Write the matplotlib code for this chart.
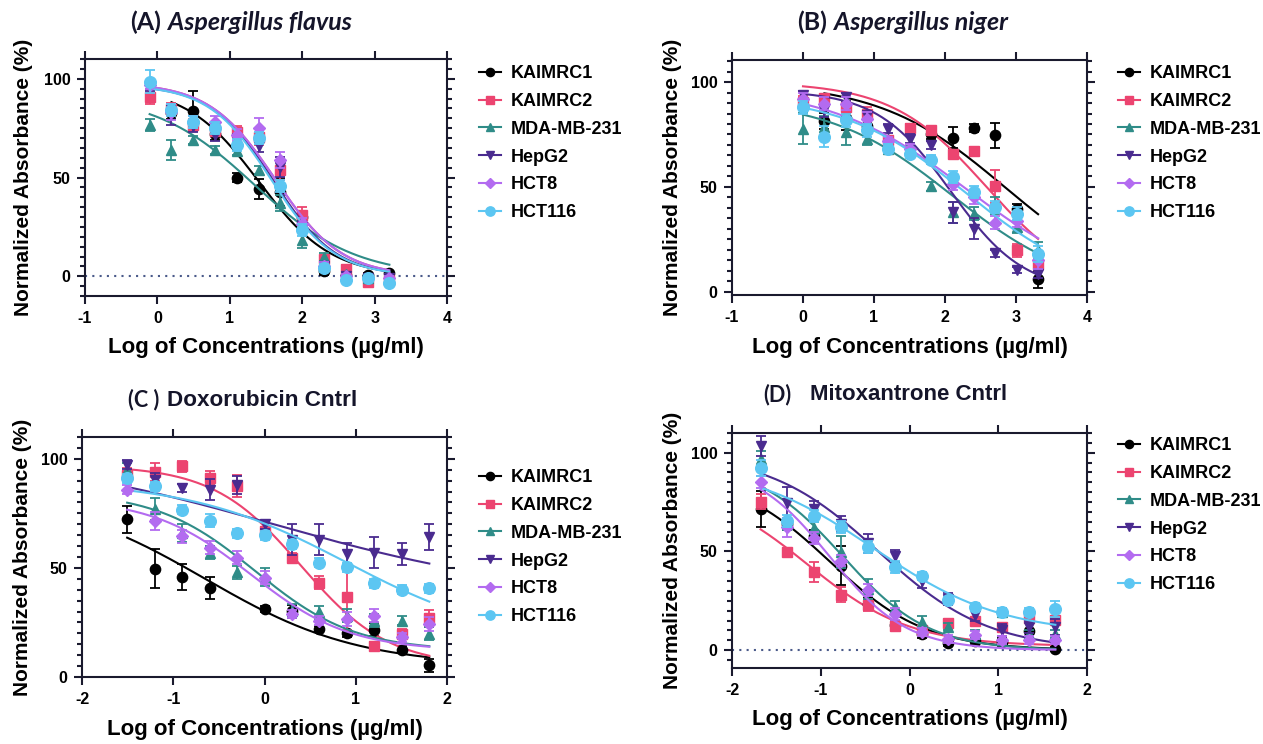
import numpy as np
import matplotlib.pyplot as plt
from matplotlib.lines import Line2D
from matplotlib.ticker import MultipleLocator

plt.rcParams['font.family'] = ['Liberation Sans', 'DejaVu Sans']
plt.rcParams['font.weight'] = 'bold'
plt.rcParams['axes.unicode_minus'] = False

nan = np.nan

cell_lines = ['KAIMRC1', 'KAIMRC2', 'MDA-MB-231', 'HepG2', 'HCT8', 'HCT116']
colors = ['#000000', '#EC4470', '#2F8C88', '#4A2B8F', '#B36BF0', '#5CC6F2']
markers = ['o', 's', '^', 'v', 'D', 'o']
msizes = [7.4, 6.6, 7.6, 7.6, 6.2, 8.4]

# (A) Aspergillus flavus extract, concentrations in ug/ml
conc_a = [0.78125, 1.5625, 3.125, 6.25, 12.5, 25, 50, 100, 200, 400, 800, 1600]
a_mean = [
    [nan, 82.6, 83.8, 72, 50, 44, 42.5, 29.8, 2.7, 0.5, 0.5, 1.4],
    [91, 84.6, 76.6, 73.6, 73, 70.7, 53.8, 31, 8.5, 3.9, -2.9, -2],
    [76.6, 64, 69, 64, 63.6, 53.8, 36.9, 18.3, 9.8, 1, -1, -1],
    [96, 81.7, 76, 71.6, 69, 65.7, 55.5, 25, 5, 0, -1, -1],
    [97, 83, 78, 78, 71.6, 75, 58.9, 26.7, 5, 0, -1, -1],
    [98.6, 84, 78, 75, 66.5, 70, 45.7, 23.4, 4, -2, -1, -3.4],
]
a_sem = [
    [0, 3, 10, 3, 2.5, 5, 7, 3, 2, 1.5, 1, 1.5],
    [4, 3, 3, 2, 3, 4, 5, 4, 2, 2, 1.5, 1.5],
    [3, 5, 2, 2, 2, 2, 4, 4, 2, 1, 1, 1],
    [2, 5, 3, 3, 3, 3, 5, 3, 2, 1, 1, 1],
    [2, 4, 3, 3, 3, 5, 4, 3, 2, 1, 1, 1],
    [6, 3, 3, 3, 3, 3, 3, 3, 2, 1, 1, 1],
]
# fitted 4PL parameters: top, bottom, logIC50, hill
a_fit = [(96, 0, 1.40, 0.87), (98, 0, 1.63, 0.95), (92, 0, 1.35, 0.63),
         (97, 0, 1.60, 1.0), (98, 0, 1.63, 0.95), (97, 0, 1.58, 1.0)]

# (B) Aspergillus niger extract
conc_b = [1, 2, 4, 8, 16, 32, 64, 128, 256, 512, 1024, 2048]
b_mean = [
    [nan, 81.4, 83, 79, nan, nan, 75, 73.5, 78, 74.6, 39.7, 6],
    [90.5, 92.4, 88, 85, 72.2, 78, 77, 65.6, 67, 50.3, 19.8, 13.5],
    [77.8, 78.6, 76, 73, 68.3, 67.5, 50.3, 38, 37.3, 41.3, 31, 19.8],
    [93.7, 86.5, 92.9, 84, 77.8, 73, 70, 38, 30, 18.3, 10.3, 8.7],
    [92, 89.7, 89.7, 82.5, 72, 68.3, 62.7, 51.6, 45, 33, 34, 15],
    [88, 74, 81.7, 77, 68.3, 65.6, 63, 54.8, 47.6, 40.5, 37.3, 18],
]
b_sem = [
    [0, 4, 6, 3, 0, 0, 2, 5, 2, 6, 2, 4],
    [3, 2, 3, 3, 2, 2, 2, 2, 2, 8, 3, 3],
    [7.5, 5, 6, 3, 2, 2, 2, 5, 3, 4, 3, 4],
    [2, 3, 2, 2, 2, 2, 2, 5, 5, 1.5, 1.5, 2],
    [3, 3, 3, 3, 2, 2, 2, 3, 3, 3, 3, 4],
    [3, 5, 3, 3, 2, 2, 2, 3, 3, 3, 3, 4],
]
b_fit = [(100, 0, 2.84, 0.49), (100, 0, 2.585, 0.65), (92, 0, 2.1, 0.5),
         (96, 0, 2.08, 0.84), (98, 0, 2.30, 0.447), (94, 0, 2.3, 0.5)]

# (C) Doxorubicin control
conc_c = [0.03125, 0.0625, 0.125, 0.25, 0.5, 1, 2, 4, 8, 16, 32, 64]
c_mean = [
    [72.2, 49.7, 45.9, 40.7, nan, 31.2, 30.1, 22, 20, 21.6, 12.5, 5.3],
    [92.7, 94, 96.5, 91.2, 87.4, 66.9, 54.7, 43.3, 36.5, 14.4, 19.8, 26.9],
    [95, 77, 66, 57, 47.9, 45.9, 30.4, 29.6, 28, 25.8, 25.8, 19.8],
    [97.3, 90.4, 86.6, 85.9, 88, 69.9, 63, 63, 56.2, 57, 56.2, 64.3],
    [85.9, 71.4, 64.6, 59.3, 54.7, 45.6, 28.9, 25.8, 26.6, 28.1, 18.2, 24.3],
    [91, 87.4, 76.7, 71.7, 65.8, 65, 60.8, 52.4, 50.2, 43, 40, 40.6],
]
c_sem = [
    [6, 9, 6, 5, 0, 1.5, 3, 1.5, 1.5, 3, 1.5, 3],
    [3, 4, 2.5, 3, 5, 2, 2, 3, 15, 1.5, 2, 4],
    [3, 5, 4, 3, 3, 4, 3, 3, 3, 3, 2, 3],
    [2, 3, 2, 5, 4, 2, 7, 7, 5, 7, 5, 6],
    [2, 4, 3, 3, 3, 3, 2, 2, 3, 3, 2, 3],
    [2, 2, 2, 3, 2, 2, 2, 2, 2, 2, 2, 2],
]
c_fit = [(85, 5, -0.65, 0.52), (97, 5, 0.4, 0.9), (85, 12, -0.1, 0.8),
         (104, 36, 0.1, 0.3), (82, 12, -0.15, 0.8), (90, 15, 0.9, 0.5)]

# (D) Mitoxantrone control
conc_d = [0.021, 0.042, 0.084, 0.17, 0.34, 0.68, 1.37, 2.75, 5.5, 11, 22, 44]
d_mean = [
    [71.4, 63.9, 58, 42.9, 23.5, 12.6, 8.4, 3.7, 4.5, 4.2, 9.6, 0.8],
    [75.3, 49.9, 39.5, 28.2, 22.7, 12.1, 10, 13.9, 14.6, 12, 16.3, 15.5],
    [97, 63.9, 62, 49.6, 31.1, 21.8, 14.3, 12, 8.4, 19.3, 8, 8],
    [103.4, 74.8, 71.4, 63.9, 54.1, 47.9, 35.3, 26, 17.6, 10.4, 11.8, 11.8],
    [85, 62.2, 57, 45.4, 30.3, 18.5, 9.2, 5.9, 7.6, 5, 5, 5],
    [92.4, 65.5, 68, 62.5, 52.1, 42, 37.8, 25.2, 21.8, 19.3, 19.3, 21],
]
d_sem = [
    [9, 3, 3, 10, 3, 2, 2, 1.5, 2, 2, 4, 1],
    [4, 2, 5, 4, 3, 2, 2, 2, 2, 2, 2, 2],
    [4, 3, 3, 8, 5, 3, 3, 2, 2, 2, 2, 2],
    [5, 8, 4, 4, 5, 3, 4, 3, 3, 3, 3, 4],
    [3, 5, 3, 3, 3, 3, 2, 2, 2, 2, 2, 2],
    [4, 3, 3, 3, 3, 3, 2, 2, 2, 2, 2, 4],
]
d_fit = [(90, 0, -0.9, 0.8), (85, 2, -1.15, 0.75), (95, 0, -0.75, 0.9),
         (100, 0, -0.35, 0.7), (95, 0, -0.9, 1.0), (95, 8, -0.4, 0.6)]

W, H = 1263, 744
spine_c = '#1a1a2e'


def four_pl(x, top, bottom, logic50, hill):
    return bottom + (top - bottom) / (1 + 10 ** ((x - logic50) * hill))


def px_rect(l, t, r, b):
    return [l / W, 1 - b / H, (r - l) / W, (b - t) / H]


def draw_panel(ax, conc, means, sems, fits, xlim, ylim, xticks, zero_line):
    x = np.log10(conc)
    for i in range(len(cell_lines)):
        y = np.array(means[i], float)
        e = np.array(sems[i], float)
        ok = ~np.isnan(y)
        xx = np.linspace(x[ok].min(), x[ok].max(), 200)
        ax.plot(xx, four_pl(xx, *fits[i]), color=colors[i], lw=1.5, zorder=2 + i)
        ax.errorbar(x[ok], y[ok], yerr=e[ok], fmt=markers[i], ms=msizes[i],
                    color=colors[i], mec=colors[i], ecolor=colors[i],
                    elinewidth=1.3, capsize=3.5, capthick=1.3, zorder=3 + i)
    if zero_line:
        ax.axhline(0, color='#4a5a8a', lw=1.5, ls=(0, (1, 2.5)), zorder=1)
    ax.set_xlim(xlim)
    ax.set_ylim(ylim)
    ax.set_xticks(xticks)
    ax.set_yticks([0, 50, 100])
    ax.yaxis.set_minor_locator(MultipleLocator(5))
    ax.tick_params(which='both', direction='out', top=True, right=True,
                   width=1.5, color=spine_c, labelsize=11.5, pad=4.5)
    ax.tick_params(which='major', length=6)
    ax.tick_params(which='minor', length=3.5)
    ax.tick_params(axis='x', which='minor', top=False, bottom=False)
    for s in ax.spines.values():
        s.set_linewidth(1.5)
        s.set_color(spine_c)


fig = plt.figure(figsize=(W / 100, H / 100), dpi=100)

panels = [
    (px_rect(85, 59, 447, 296), conc_a, a_mean, a_sem, a_fit, (-1, 4), (-10, 110), [-1, 0, 1, 2, 3, 4], True),
    (px_rect(732, 60, 1087, 295), conc_b, b_mean, b_sem, b_fit, (-1, 4), (-1.5, 110.5), [-1, 0, 1, 2, 3, 4], False),
    (px_rect(82, 437, 447, 677), conc_c, c_mean, c_sem, c_fit, (-2, 2), (0, 110), [-2, -1, 0, 1, 2], False),
    (px_rect(732, 433, 1087, 668), conc_d, d_mean, d_sem, d_fit, (-2, 2), (-9, 110), [-2, -1, 0, 1, 2], True),
]
legend_pos = [(479, 65), (1118, 65), (479, 469), (1118, 437)]
ylabel_x = [24, 673, 23, 673]
xlabel_y = [348, 348, 729, 720]

handles = [Line2D([0], [0], color=colors[i], marker=markers[i], ms=msizes[i] * 0.8, lw=1.5)
           for i in range(len(cell_lines))]

for k, (rect, conc, mean, sem, fit, xlim, ylim, xt, zl) in enumerate(panels):
    ax = fig.add_axes(rect)
    draw_panel(ax, conc, mean, sem, fit, xlim, ylim, xt, zl)
    lx, ly = legend_pos[k]
    ax.legend(handles, cell_lines, loc='upper left', bbox_to_anchor=(lx / W, 1 - ly / H),
              bbox_transform=fig.transFigure, frameon=False,
              prop={'weight': 'bold', 'size': 13}, handlelength=1.2,
              handletextpad=0.55, labelspacing=0.6, borderpad=0, borderaxespad=0)
    cy = rect[1] + rect[3] / 2
    cx = rect[0] + rect[2] / 2
    fig.text(ylabel_x[k] / W, cy, 'Normalized Absorbance (%)', rotation=90,
             ha='center', va='center', fontsize=15, fontweight='bold')
    fig.text(cx, 1 - xlabel_y[k] / H, 'Log of Concentrations (µg/ml)',
             ha='center', va='center', fontsize=16, fontweight='bold')

title_c = '#15152a'
fig.text(130 / W, 1 - 22 / H, '(A)', family='Lato', fontsize=18, fontweight='bold', va='center', color=title_c)
fig.text(168 / W, 1 - 22 / H, 'Aspergillus flavus', family='Lato', fontsize=18, fontweight='bold',
         style='italic', va='center', color=title_c)
fig.text(797 / W, 1 - 22 / H, '(B)', family='Lato', fontsize=18, fontweight='bold', va='center', color=title_c)
fig.text(834 / W, 1 - 22 / H, 'Aspergillus niger', family='Lato', fontsize=18, fontweight='bold',
         style='italic', va='center', color=title_c)
fig.text(128 / W, 1 - 400 / H, '(C )', family='Lato', fontsize=15.5, fontweight='bold', va='center', color=title_c)
fig.text(167 / W, 1 - 400 / H, 'Doxorubicin Cntrl', fontsize=16.2, fontweight='bold', va='center', color=title_c)
fig.text(763 / W, 1 - 395 / H, '(D)', family='Lato', fontsize=15.5, fontweight='bold', va='center', color=title_c)
fig.text(810 / W, 1 - 395 / H, 'Mitoxantrone Cntrl', fontsize=16, fontweight='bold', va='center', color=title_c)

fig.savefig('out.png', dpi=100)
